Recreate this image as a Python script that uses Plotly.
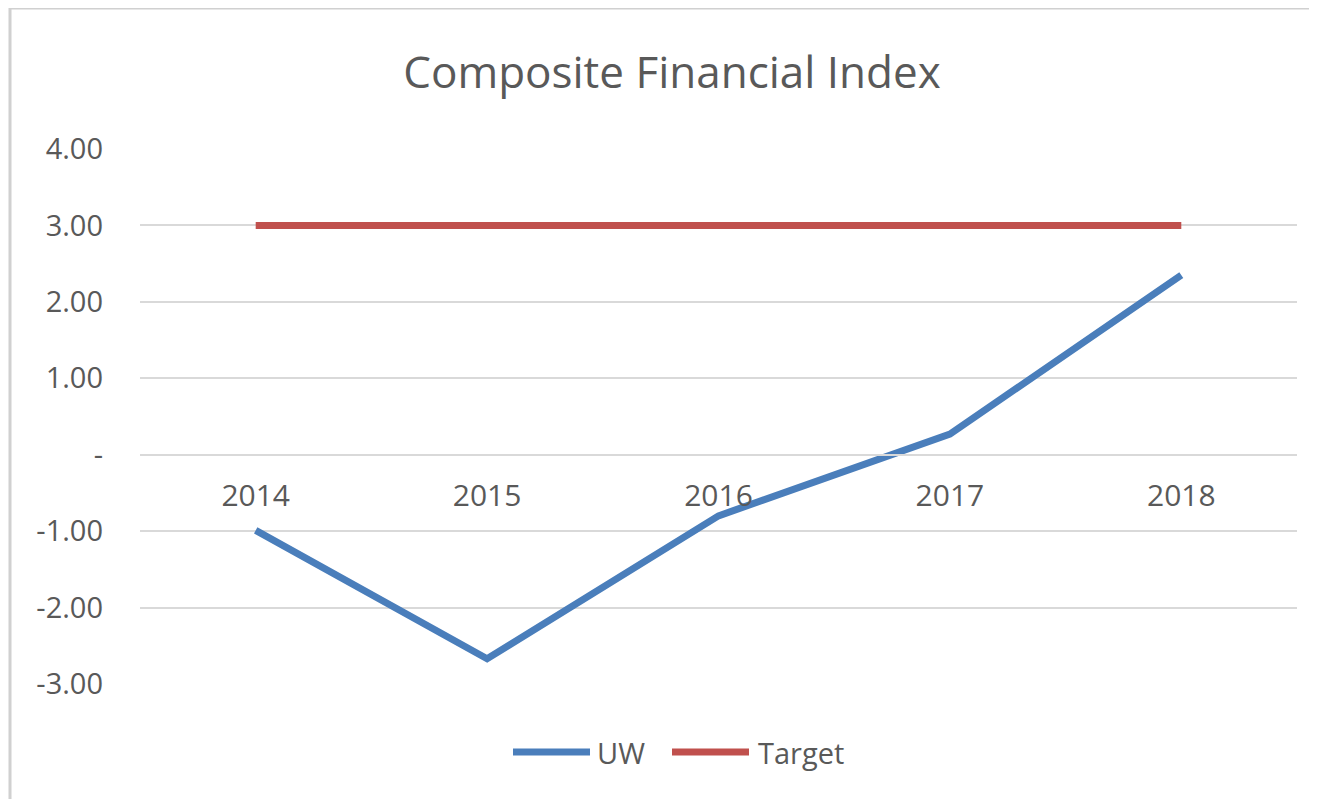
import plotly.graph_objects as go

years = ["2014", "2015", "2016", "2017", "2018"]
uw = [-0.99, -2.67, -0.80, 0.27, 2.35]
target = [3.0, 3.0, 3.0, 3.0, 3.0]
y_ticks = [-3, -2, -1, 0, 1, 2, 3, 4]
y_labels = ["-3.00", "-2.00", "-1.00", "-", "1.00", "2.00", "3.00", "4.00"]
series_names = ["UW", "Target"]

BLUE = "#4a7ebb"
RED = "#c0504d"
GRID = "#d9d9d9"
TEXT = "#595959"
FONT = "Open Sans, sans-serif"

W, H = 1317, 799
PAGE_PAD = 8  # browser body margin shifts the figure by this much
# plot area on screen: x 140..1297, y 149..684
L, R, T, B = 140 - PAGE_PAD, 20 + PAGE_PAD, 149 - PAGE_PAD, 115 + PAGE_PAD
pw, ph = W - L - R, H - T - B


def px(sx):
    return (sx - 140) / pw


def py(sy):
    return (684 - sy) / ph


fig = go.Figure()
fig.add_trace(go.Scatter(x=years, y=uw, name=series_names[0], mode="lines",
                         line=dict(color=BLUE, width=7), showlegend=False))
fig.add_trace(go.Scatter(x=years, y=target, name=series_names[1], mode="lines",
                         line=dict(color=RED, width=7), showlegend=False))

ymin, ymax = -3, 4
zero_pos = (0 - ymin) / (ymax - ymin)

fig.update_layout(
    width=W, height=H,
    margin=dict(l=L, r=R, t=T, b=B),
    paper_bgcolor="white", plot_bgcolor="white",
    font=dict(family=FONT, color=TEXT, size=29),
    title=dict(text="Composite Financial Index", x=(672 - PAGE_PAD) / W, xanchor="center",
               y=1 - (73 - PAGE_PAD) / H, yanchor="middle",
               font=dict(family=FONT, size=44, color=TEXT)),
    showlegend=False,
    xaxis=dict(type="category", range=[-0.5, 4.5], anchor="free", position=zero_pos,
               showgrid=False, showline=True, linecolor=GRID, linewidth=2,
               ticks="", ticklabelstandoff=14,
               tickfont=dict(size=30, color=TEXT), zeroline=False),
    yaxis=dict(range=[ymin, ymax], tickvals=y_ticks, ticktext=y_labels,
               showgrid=True, gridcolor=GRID, gridwidth=2, zeroline=False,
               showline=False, ticks="", ticklabelstandoff=36,
               tickfont=dict(size=29, color=TEXT)),
)

# legend drawn by hand so the keys get Excel's long line samples
legend_y = py(752)
for name, color, x0, x1, tx in [(series_names[0], BLUE, 513, 590, 595),
                                (series_names[1], RED, 672, 749, 756)]:
    fig.add_shape(type="line", xref="paper", yref="paper", x0=px(x0), x1=px(x1),
                  y0=legend_y, y1=legend_y, line=dict(color=color, width=7))
    fig.add_annotation(text=name, xref="paper", yref="paper", x=px(tx), y=legend_y,
                       xanchor="left", yanchor="middle", showarrow=False,
                       font=dict(size=29, color=TEXT))

# chart frame (top and left edges of the outer border)
fig.add_shape(type="line", xref="paper", yref="paper", x0=px(10), x1=px(1330),
              y0=py(8), y1=py(8), line=dict(color="#d0d0d0", width=3))
fig.add_shape(type="line", xref="paper", yref="paper", x0=px(10), x1=px(10),
              y0=py(8), y1=py(810), line=dict(color="#d0d0d0", width=3))

fig.write_html("out.html")
